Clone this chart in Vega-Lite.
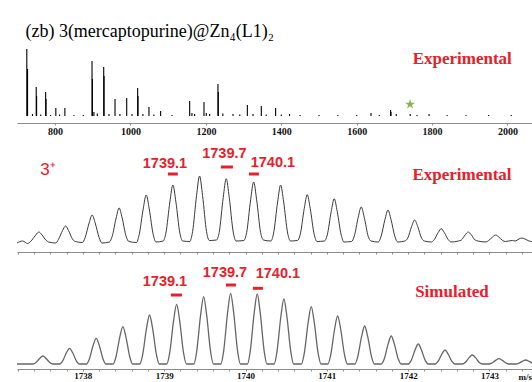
{
  "$schema": "https://vega.github.io/schema/vega-lite/v6.json",
  "background": "white",
  "padding": {"left": 14, "top": 23, "right": 0, "bottom": 0},
  "title": {"text": "(zb) 3(mercaptopurine)@Zn₄(L1)₂", "anchor": "start", "font": "Liberation Serif", "fontSize": 18, "fontWeight": "normal", "color": "black", "dx": 11, "offset": 4},
  "config": {
    "view": {"stroke": null},
    "axis": {"domainColor": "#8c8c8c", "tickColor": "#8c8c8c", "labelFont": "Liberation Serif", "labelFontWeight": "bold", "labelFontSize": 10, "labelColor": "#111111", "grid": false, "title": null, "labelFlush": false, "labelOverlap": false, "tickSize": 2, "labelPadding": 1}
  },
  "spacing": 6,
  "vconcat": [
    {
      "width": 518,
      "height": 78,
      "encoding": {
        "x": {"field": "mz", "type": "quantitative", "scale": {"domain": [699, 2073], "nice": false, "zero": false}, "axis": {"values": [800, 1000, 1200, 1400, 1600, 1800, 2000], "format": "d"}},
        "y": {"field": "v", "type": "quantitative", "scale": {"domain": [-7, 71], "nice": false, "zero": false}, "axis": null}
      },
      "layer": [
        {
          "data": {"values": [{}]},
          "mark": {"type": "rule", "color": "black", "strokeWidth": 1},
          "encoding": {"x": {"datum": 699}, "x2": {"datum": 2073}, "y": {"datum": 0}}
        },
        {
          "data": {"values": [
            {"mz": 725, "v": 67}, {"mz": 727, "v": 47}, {"mz": 750, "v": 29}, {"mz": 751, "v": 20}, {"mz": 775, "v": 24}, {"mz": 776, "v": 17},
            {"mz": 802, "v": 8}, {"mz": 826, "v": 8}, {"mz": 898, "v": 55}, {"mz": 899, "v": 37}, {"mz": 903, "v": 4}, {"mz": 929, "v": 49},
            {"mz": 930, "v": 40}, {"mz": 959, "v": 17}, {"mz": 990, "v": 18}, {"mz": 1019, "v": 28}, {"mz": 1020, "v": 20}, {"mz": 1049, "v": 9},
            {"mz": 1080, "v": 5}, {"mz": 1157, "v": 15}, {"mz": 1163, "v": 3}, {"mz": 1195, "v": 14}, {"mz": 1201, "v": 3}, {"mz": 1232, "v": 32},
            {"mz": 1233, "v": 24}, {"mz": 1272, "v": 2}, {"mz": 1310, "v": 11}, {"mz": 1347, "v": 10}, {"mz": 1385, "v": 8}, {"mz": 1422, "v": 2},
            {"mz": 1638, "v": 3}, {"mz": 1690, "v": 6}, {"mz": 1691, "v": 4}, {"mz": 1742, "v": 2}, {"mz": 1792, "v": 2}, {"mz": 1840, "v": 1},
            {"mz": 740, "v": 2}, {"mz": 762, "v": 1.5}, {"mz": 788, "v": 1}, {"mz": 812, "v": 1.5}, {"mz": 850, "v": 1}, {"mz": 875, "v": 1},
            {"mz": 912, "v": 2.5}, {"mz": 943, "v": 2}, {"mz": 972, "v": 2}, {"mz": 1004, "v": 2}, {"mz": 1033, "v": 2}, {"mz": 1062, "v": 1.5},
            {"mz": 1110, "v": 1}, {"mz": 1170, "v": 2}, {"mz": 1210, "v": 2}, {"mz": 1245, "v": 2.5}, {"mz": 1290, "v": 1.5}, {"mz": 1325, "v": 2},
            {"mz": 1360, "v": 1.5}, {"mz": 1400, "v": 1.5}, {"mz": 1450, "v": 1}, {"mz": 1500, "v": 1}, {"mz": 1550, "v": 1}, {"mz": 1600, "v": 1},
            {"mz": 1660, "v": 1}, {"mz": 1705, "v": 2}, {"mz": 1760, "v": 1}, {"mz": 1890, "v": 1}, {"mz": 1950, "v": 1}, {"mz": 2010, "v": 1}
          ]},
          "mark": {"type": "rule", "color": "black", "strokeWidth": 1.1},
          "encoding": {"y2": {"datum": 0}}
        },
        {
          "data": {"values": [{"mz": 1741.6, "v": 11.7}]},
          "mark": {"type": "point", "shape": "M0,-1L0.2245,-0.309L0.951,-0.309L0.363,0.118L0.588,0.809L0,0.382L-0.588,0.809L-0.363,0.118L-0.951,-0.309L-0.2245,-0.309Z", "filled": true, "color": "#8ab54a", "size": 110, "opacity": 1}
        },
        {
          "data": {"values": [{"mz": 1880, "v": 56.7, "t": "Experimental"}]},
          "mark": {"type": "text", "font": "Liberation Serif", "fontSize": 17, "fontWeight": "bold", "color": "#e8202a", "align": "center", "baseline": "middle"},
          "encoding": {"text": {"field": "t"}}
        }
      ]
    },
    {
      "width": 518,
      "height": 110,
      "encoding": {
        "x": {"field": "mz", "type": "quantitative", "scale": {"domain": [1737.19, 1743.56], "nice": false, "zero": false}, "axis": {"labels": false, "values": [1737.2, 1737.4, 1737.6, 1737.8, 1738, 1738.2, 1738.4, 1738.6, 1738.8, 1739, 1739.2, 1739.4, 1739.6, 1739.8, 1740, 1740.2, 1740.4, 1740.6, 1740.8, 1741, 1741.2, 1741.4, 1741.6, 1741.8, 1742, 1742.2, 1742.4, 1742.6, 1742.8, 1743, 1743.2, 1743.4]}},
        "y": {"field": "v", "type": "quantitative", "scale": {"domain": [0, 110], "nice": false, "zero": false}, "axis": null}
      },
      "layer": [
        {
          "data": {"values": [
            {"mz": 1737.19, "v": 9}, {"mz": 1737.26, "v": 11}, {"mz": 1737.32, "v": 8.5},
            {"mz": 1737.373, "v": 11.9}, {"mz": 1737.422, "v": 17.2}, {"mz": 1737.459, "v": 20}, {"mz": 1737.496, "v": 17.2}, {"mz": 1737.545, "v": 11.9},
            {"mz": 1737.579, "v": 10}, {"mz": 1737.667, "v": 9},
            {"mz": 1737.701, "v": 12.8}, {"mz": 1737.75, "v": 21.4}, {"mz": 1737.787, "v": 26}, {"mz": 1737.824, "v": 21.4}, {"mz": 1737.873, "v": 12.8},
            {"mz": 1737.907, "v": 10.5}, {"mz": 1737.994, "v": 9.5},
            {"mz": 1738.028, "v": 14.5}, {"mz": 1738.077, "v": 29.1}, {"mz": 1738.114, "v": 37}, {"mz": 1738.151, "v": 29.1}, {"mz": 1738.2, "v": 14.5},
            {"mz": 1738.234, "v": 9}, {"mz": 1738.326, "v": 10},
            {"mz": 1738.36, "v": 15.5}, {"mz": 1738.409, "v": 34}, {"mz": 1738.446, "v": 44}, {"mz": 1738.483, "v": 34}, {"mz": 1738.532, "v": 15.5},
            {"mz": 1738.566, "v": 10.5}, {"mz": 1738.659, "v": 9.5},
            {"mz": 1738.693, "v": 17.5}, {"mz": 1738.742, "v": 43.1}, {"mz": 1738.779, "v": 57}, {"mz": 1738.816, "v": 43.1}, {"mz": 1738.865, "v": 17.5},
            {"mz": 1738.899, "v": 10}, {"mz": 1738.987, "v": 11},
            {"mz": 1739.021, "v": 19}, {"mz": 1739.07, "v": 50.1}, {"mz": 1739.107, "v": 67}, {"mz": 1739.144, "v": 50.1}, {"mz": 1739.193, "v": 19},
            {"mz": 1739.227, "v": 11}, {"mz": 1739.315, "v": 10.5},
            {"mz": 1739.349, "v": 20.3}, {"mz": 1739.398, "v": 56.4}, {"mz": 1739.435, "v": 76}, {"mz": 1739.472, "v": 56.4}, {"mz": 1739.521, "v": 20.3},
            {"mz": 1739.555, "v": 11.5}, {"mz": 1739.643, "v": 12},
            {"mz": 1739.677, "v": 19.9}, {"mz": 1739.726, "v": 54.5}, {"mz": 1739.763, "v": 73.3}, {"mz": 1739.8, "v": 54.5}, {"mz": 1739.849, "v": 19.9},
            {"mz": 1739.883, "v": 11}, {"mz": 1739.98, "v": 11.5},
            {"mz": 1740.014, "v": 19.4}, {"mz": 1740.063, "v": 52.2}, {"mz": 1740.1, "v": 70}, {"mz": 1740.137, "v": 52.2}, {"mz": 1740.186, "v": 19.4},
            {"mz": 1740.22, "v": 12}, {"mz": 1740.312, "v": 11},
            {"mz": 1740.346, "v": 19}, {"mz": 1740.395, "v": 50.1}, {"mz": 1740.432, "v": 67}, {"mz": 1740.469, "v": 50.1}, {"mz": 1740.518, "v": 19},
            {"mz": 1740.552, "v": 11}, {"mz": 1740.639, "v": 11.5},
            {"mz": 1740.673, "v": 17.5}, {"mz": 1740.722, "v": 43.3}, {"mz": 1740.759, "v": 57.3}, {"mz": 1740.796, "v": 43.3}, {"mz": 1740.845, "v": 17.5},
            {"mz": 1740.879, "v": 10.5}, {"mz": 1740.971, "v": 11},
            {"mz": 1741.005, "v": 16.9}, {"mz": 1741.054, "v": 40.5}, {"mz": 1741.091, "v": 53.3}, {"mz": 1741.128, "v": 40.5}, {"mz": 1741.177, "v": 16.9},
            {"mz": 1741.211, "v": 10}, {"mz": 1741.303, "v": 10.5},
            {"mz": 1741.337, "v": 15.7}, {"mz": 1741.386, "v": 34.7}, {"mz": 1741.423, "v": 45}, {"mz": 1741.46, "v": 34.7}, {"mz": 1741.509, "v": 15.7},
            {"mz": 1741.543, "v": 11}, {"mz": 1741.632, "v": 10},
            {"mz": 1741.666, "v": 15.2}, {"mz": 1741.715, "v": 32.6}, {"mz": 1741.752, "v": 42}, {"mz": 1741.789, "v": 32.6}, {"mz": 1741.838, "v": 15.2},
            {"mz": 1741.872, "v": 10}, {"mz": 1741.96, "v": 11},
            {"mz": 1741.994, "v": 13.7}, {"mz": 1742.043, "v": 25.6}, {"mz": 1742.08, "v": 32}, {"mz": 1742.117, "v": 25.6}, {"mz": 1742.166, "v": 13.7},
            {"mz": 1742.2, "v": 11}, {"mz": 1742.287, "v": 10},
            {"mz": 1742.321, "v": 12.4}, {"mz": 1742.37, "v": 19.5}, {"mz": 1742.407, "v": 23.3}, {"mz": 1742.444, "v": 19.5}, {"mz": 1742.493, "v": 12.4},
            {"mz": 1742.527, "v": 10}, {"mz": 1742.619, "v": 11},
            {"mz": 1742.653, "v": 11.9}, {"mz": 1742.702, "v": 17.2}, {"mz": 1742.739, "v": 20}, {"mz": 1742.776, "v": 17.2}, {"mz": 1742.825, "v": 11.9},
            {"mz": 1742.859, "v": 11}, {"mz": 1742.956, "v": 10},
            {"mz": 1742.99, "v": 11.5}, {"mz": 1743.039, "v": 15.1}, {"mz": 1743.076, "v": 17}, {"mz": 1743.113, "v": 15.1}, {"mz": 1743.162, "v": 11.5},
            {"mz": 1743.196, "v": 10.5}, {"mz": 1743.28, "v": 11.5},
            {"mz": 1743.314, "v": 11}, {"mz": 1743.363, "v": 13}, {"mz": 1743.4, "v": 14}, {"mz": 1743.437, "v": 13}, {"mz": 1743.486, "v": 11},
            {"mz": 1743.52, "v": 10.5}, {"mz": 1743.56, "v": 11}
          ]},
          "mark": {"type": "line", "color": "#3a3a3a", "strokeWidth": 1, "interpolate": "monotone"}
        },
        {
          "data": {"values": [
            {"mz": 1739.009, "v": 88.3, "t": "1739.1"},
            {"mz": 1739.74, "v": 98.3, "t": "1739.7"},
            {"mz": 1740.337, "v": 89.3, "t": "1740.1"}
          ]},
          "mark": {"type": "text", "font": "Liberation Sans", "fontSize": 14.5, "fontWeight": "bold", "color": "#e8202a", "align": "center", "baseline": "middle"},
          "encoding": {"text": {"field": "t"}}
        },
        {
          "data": {"values": [
            {"mz": 1739.045, "mz2": 1739.168, "v": 78},
            {"mz": 1739.697, "mz2": 1739.845, "v": 85},
            {"mz": 1740.042, "mz2": 1740.165, "v": 78}
          ]},
          "mark": {"type": "rule", "color": "#e8202a", "strokeWidth": 3},
          "encoding": {"x2": {"field": "mz2"}}
        },
        {
          "data": {"values": [{"mz": 1737.57, "v": 82, "t": "3⁺"}]},
          "mark": {"type": "text", "font": "Liberation Sans", "fontSize": 17, "color": "#e8202a", "align": "center", "baseline": "middle"},
          "encoding": {"text": {"field": "t"}}
        },
        {
          "data": {"values": [{"mz": 1742.662, "v": 76.7, "t": "Experimental"}]},
          "mark": {"type": "text", "font": "Liberation Serif", "fontSize": 17, "fontWeight": "bold", "color": "#e8202a", "align": "center", "baseline": "middle"},
          "encoding": {"text": {"field": "t"}}
        }
      ]
    },
    {
      "width": 518,
      "height": 108,
      "encoding": {
        "x": {"field": "mz", "type": "quantitative", "scale": {"domain": [1737.19, 1743.56], "nice": false, "zero": false}, "axis": {"values": [1737.2, 1737.4, 1737.6, 1737.8, 1738, 1738.2, 1738.4, 1738.6, 1738.8, 1739, 1739.2, 1739.4, 1739.6, 1739.8, 1740, 1740.2, 1740.4, 1740.6, 1740.8, 1741, 1741.2, 1741.4, 1741.6, 1741.8, 1742, 1742.2, 1742.4, 1742.6, 1742.8, 1743, 1743.2, 1743.4], "labelExpr": "abs(datum.value - round(datum.value)) < 0.01 ? format(datum.value, 'd') : ''", "labelFontSize": 9, "labelPadding": 0}},
        "y": {"field": "v", "type": "quantitative", "scale": {"domain": [0, 108], "nice": false, "zero": false}, "axis": null}
      },
      "layer": [
        {
          "data": {"values": [
            {"mz": 1737.19, "v": 5}, {"mz": 1737.388, "v": 5},
            {"mz": 1737.422, "v": 6.4}, {"mz": 1737.471, "v": 10.8}, {"mz": 1737.508, "v": 13}, {"mz": 1737.545, "v": 10.8}, {"mz": 1737.594, "v": 6.4},
            {"mz": 1737.628, "v": 5}, {"mz": 1737.716, "v": 5},
            {"mz": 1737.75, "v": 7.8}, {"mz": 1737.799, "v": 16.5}, {"mz": 1737.836, "v": 20.7}, {"mz": 1737.873, "v": 16.5}, {"mz": 1737.922, "v": 7.8},
            {"mz": 1737.956, "v": 5}, {"mz": 1738.044, "v": 5},
            {"mz": 1738.078, "v": 9.6}, {"mz": 1738.127, "v": 23.8}, {"mz": 1738.164, "v": 30.7}, {"mz": 1738.201, "v": 23.8}, {"mz": 1738.25, "v": 9.6},
            {"mz": 1738.284, "v": 5}, {"mz": 1738.372, "v": 5},
            {"mz": 1738.406, "v": 11.7}, {"mz": 1738.455, "v": 32.2}, {"mz": 1738.492, "v": 42.3}, {"mz": 1738.529, "v": 32.2}, {"mz": 1738.578, "v": 11.7},
            {"mz": 1738.612, "v": 5}, {"mz": 1738.7, "v": 5},
            {"mz": 1738.734, "v": 13.8}, {"mz": 1738.783, "v": 40.8}, {"mz": 1738.82, "v": 54}, {"mz": 1738.857, "v": 40.8}, {"mz": 1738.906, "v": 13.8},
            {"mz": 1738.94, "v": 5}, {"mz": 1739.033, "v": 5},
            {"mz": 1739.067, "v": 15.7}, {"mz": 1739.116, "v": 48.6}, {"mz": 1739.153, "v": 64.7}, {"mz": 1739.19, "v": 48.6}, {"mz": 1739.239, "v": 15.7},
            {"mz": 1739.273, "v": 5}, {"mz": 1739.365, "v": 5},
            {"mz": 1739.399, "v": 17.1}, {"mz": 1739.448, "v": 54.1}, {"mz": 1739.485, "v": 72.3}, {"mz": 1739.522, "v": 54.1}, {"mz": 1739.571, "v": 17.1},
            {"mz": 1739.605, "v": 5}, {"mz": 1739.697, "v": 5},
            {"mz": 1739.731, "v": 17.7}, {"mz": 1739.78, "v": 56.6}, {"mz": 1739.817, "v": 75.7}, {"mz": 1739.854, "v": 56.6}, {"mz": 1739.903, "v": 17.7},
            {"mz": 1739.937, "v": 5}, {"mz": 1740.024, "v": 5},
            {"mz": 1740.058, "v": 17.6}, {"mz": 1740.107, "v": 56.1}, {"mz": 1740.144, "v": 75}, {"mz": 1740.181, "v": 56.1}, {"mz": 1740.23, "v": 17.6},
            {"mz": 1740.264, "v": 5}, {"mz": 1740.352, "v": 5},
            {"mz": 1740.386, "v": 16.7}, {"mz": 1740.435, "v": 52.5}, {"mz": 1740.472, "v": 70}, {"mz": 1740.509, "v": 52.5}, {"mz": 1740.558, "v": 16.7},
            {"mz": 1740.592, "v": 5}, {"mz": 1740.688, "v": 5},
            {"mz": 1740.722, "v": 15.3}, {"mz": 1740.771, "v": 46.8}, {"mz": 1740.808, "v": 62.3}, {"mz": 1740.845, "v": 46.8}, {"mz": 1740.894, "v": 15.3},
            {"mz": 1740.928, "v": 5}, {"mz": 1741.013, "v": 5},
            {"mz": 1741.047, "v": 13.6}, {"mz": 1741.096, "v": 40}, {"mz": 1741.133, "v": 53}, {"mz": 1741.17, "v": 40}, {"mz": 1741.219, "v": 13.6},
            {"mz": 1741.253, "v": 5}, {"mz": 1741.345, "v": 5},
            {"mz": 1741.379, "v": 11.8}, {"mz": 1741.428, "v": 32.7}, {"mz": 1741.465, "v": 43}, {"mz": 1741.502, "v": 32.7}, {"mz": 1741.551, "v": 11.8},
            {"mz": 1741.585, "v": 5}, {"mz": 1741.672, "v": 5},
            {"mz": 1741.706, "v": 10}, {"mz": 1741.755, "v": 25.4}, {"mz": 1741.792, "v": 33}, {"mz": 1741.829, "v": 25.4}, {"mz": 1741.878, "v": 10},
            {"mz": 1741.912, "v": 5}, {"mz": 1742.004, "v": 5},
            {"mz": 1742.038, "v": 8.6}, {"mz": 1742.087, "v": 19.6}, {"mz": 1742.124, "v": 25}, {"mz": 1742.161, "v": 19.6}, {"mz": 1742.21, "v": 8.6},
            {"mz": 1742.244, "v": 5}, {"mz": 1742.333, "v": 5},
            {"mz": 1742.367, "v": 7.5}, {"mz": 1742.416, "v": 15.2}, {"mz": 1742.453, "v": 19}, {"mz": 1742.49, "v": 15.2}, {"mz": 1742.539, "v": 7.5},
            {"mz": 1742.573, "v": 5}, {"mz": 1742.669, "v": 5},
            {"mz": 1742.703, "v": 6.6}, {"mz": 1742.752, "v": 11.6}, {"mz": 1742.789, "v": 14}, {"mz": 1742.826, "v": 11.6}, {"mz": 1742.875, "v": 6.6},
            {"mz": 1742.909, "v": 5}, {"mz": 1742.997, "v": 5},
            {"mz": 1743.031, "v": 6}, {"mz": 1743.08, "v": 8.9}, {"mz": 1743.117, "v": 10.3}, {"mz": 1743.154, "v": 8.9}, {"mz": 1743.203, "v": 6},
            {"mz": 1743.237, "v": 5}, {"mz": 1743.325, "v": 5},
            {"mz": 1743.359, "v": 5.7}, {"mz": 1743.408, "v": 7.9}, {"mz": 1743.445, "v": 9}, {"mz": 1743.482, "v": 7.9}, {"mz": 1743.531, "v": 5.7},
            {"mz": 1743.56, "v": 5.2}
          ]},
          "mark": {"type": "line", "color": "#666666", "strokeWidth": 1.3, "interpolate": "monotone"}
        },
        {
          "data": {"values": [
            {"mz": 1739.009, "v": 87.3, "t": "1739.1"},
            {"mz": 1739.747, "v": 96, "t": "1739.7"},
            {"mz": 1740.398, "v": 94.7, "t": "1740.1"}
          ]},
          "mark": {"type": "text", "font": "Liberation Sans", "fontSize": 14.5, "fontWeight": "bold", "color": "#e8202a", "align": "center", "baseline": "middle"},
          "encoding": {"text": {"field": "t"}}
        },
        {
          "data": {"values": [
            {"mz": 1739.082, "mz2": 1739.218, "v": 74},
            {"mz": 1739.759, "mz2": 1739.882, "v": 84},
            {"mz": 1740.091, "mz2": 1740.214, "v": 80.7}
          ]},
          "mark": {"type": "rule", "color": "#e8202a", "strokeWidth": 3},
          "encoding": {"x2": {"field": "mz2"}}
        },
        {
          "data": {"values": [{"mz": 1742.539, "v": 76.7, "t": "Simulated"}]},
          "mark": {"type": "text", "font": "Liberation Serif", "fontSize": 17, "fontWeight": "bold", "color": "#e8202a", "align": "center", "baseline": "middle"},
          "encoding": {"text": {"field": "t"}}
        },
        {
          "data": {"values": [{"mz": 1743.44, "v": -8, "t": "m/s"}]},
          "mark": {"type": "text", "font": "Liberation Serif", "fontSize": 9, "fontWeight": "bold", "color": "#111111", "align": "center", "baseline": "middle"},
          "encoding": {"text": {"field": "t"}}
        }
      ]
    }
  ]
}
